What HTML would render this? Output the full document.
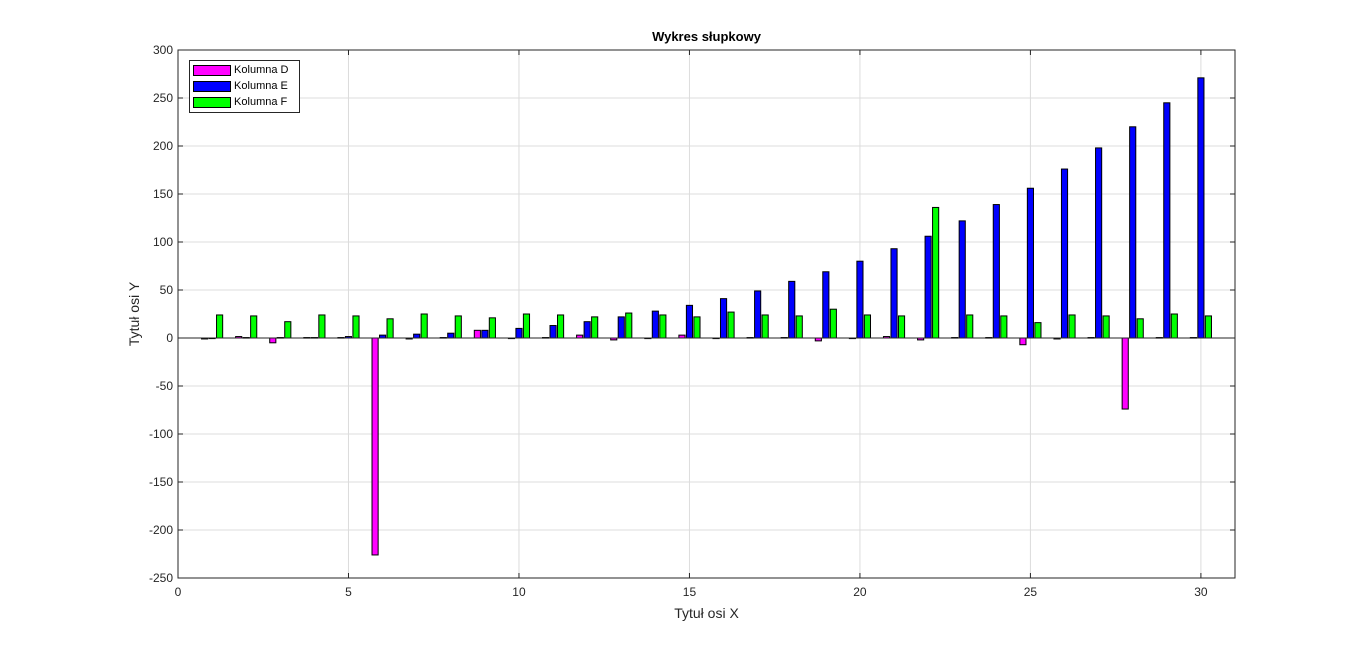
<!DOCTYPE html>
<html><head><meta charset="utf-8"><style>
body{margin:0;background:#fff;font-family:"Liberation Sans",Arial,sans-serif}
svg text{font-family:"Liberation Sans",Arial,sans-serif}
</style></head><body>
<svg id="chart" width="1366" height="651" xmlns="http://www.w3.org/2000/svg">
<rect width="1366" height="651" fill="#fff"/>
<g id="grid"></g><g id="bars"></g><g id="axes"></g>
</svg>
<script>
const categories=[1,2,3,4,5,6,7,8,9,10,11,12,13,14,15,16,17,18,19,20,21,22,23,24,25,26,27,28,29,30];
const seriesD=[-1,1.5,-5,0.5,0.5,-226,-1,0.5,8,0,0.5,3,-2,0,3,0,0.5,0.5,-3,0,1.5,-2,0.5,0.5,-7,-1,0.5,-74,0.5,0.5];
const seriesE=[0,0.5,0.5,0.5,1.5,3,4,5,8,10,13,17,22,28,34,41,49,59,69,80,93,106,122,139,156,176,198,220,245,271];
const seriesF=[24,23,17,24,23,20,25,23,21,25,24,22,26,24,22,27,24,23,30,24,23,136,24,23,16,24,23,20,25,23];
const xTicks=[0,5,10,15,20,25,30];
const yTicks=[300,250,200,150,100,50,0,-50,-100,-150,-200,-250];
const L=178,R=1235,T=50,B=578,xMin=0,xMax=31,yMin=-250,yMax=300;
const sx=v=>L+(v-xMin)/(xMax-xMin)*(R-L);
const sy=v=>T+(yMax-v)/(yMax-yMin)*(B-T);
const NS="http://www.w3.org/2000/svg";
function mk(tag,attrs,parent){const e=document.createElementNS(NS,tag);for(const k in attrs)e.setAttribute(k,attrs[k]);parent.appendChild(e);return e;}
const grid=document.getElementById('grid'),bars=document.getElementById('bars'),axes=document.getElementById('axes');
mk('rect',{x:L,y:T,width:R-L,height:B-T,fill:'#fff'},grid);
xTicks.forEach(t=>{const g=mk('line',{x1:sx(t),x2:sx(t),y1:T,y2:B,stroke:'#dcdcdc'},grid);

const tx=mk('text',{x:sx(t),y:B+18,'font-size':12,'text-anchor':'middle',fill:'#262626'},axes);tx.textContent=t;

mk('line',{x1:sx(t),x2:sx(t),y1:B,y2:B-5,stroke:'#262626'},axes);mk('line',{x1:sx(t),x2:sx(t),y1:T,y2:T+5,stroke:'#262626'},axes);});
yTicks.forEach(t=>{const g=mk('line',{x1:L,x2:R,y1:sy(t),y2:sy(t),stroke:'#dcdcdc'},grid);

const tx=mk('text',{x:L-5,y:sy(t)+4,'font-size':12,'text-anchor':'end',fill:'#262626'},axes);tx.textContent=t;

mk('line',{x1:L,x2:L+5,y1:sy(t),y2:sy(t),stroke:'#262626'},axes);mk('line',{x1:R,x2:R-5,y1:sy(t),y2:sy(t),stroke:'#262626'},axes);});
const series=[[seriesD,'#ff00ff',-0.22,'bar-kolumna-d'],[seriesE,'#0000ff',0,'bar-kolumna-e'],[seriesF,'#00ff00',0.22,'bar-kolumna-f']];
const bw=0.18;
series.forEach(([vals,col,off,name])=>{vals.forEach((v,i)=>{const x=categories[i]+off;
const y0=sy(0),y1=sy(v);const r=mk('rect',{x:sx(x-bw/2),width:sx(x+bw/2)-sx(x-bw/2),y:Math.min(y0,y1),height:Math.max(Math.abs(y1-y0),0.6),fill:col,stroke:'#000','stroke-width':1},bars);
});});
mk('line',{x1:L,x2:R,y1:sy(0),y2:sy(0),stroke:'#262626'},bars);
mk('rect',{x:L,y:T,width:R-L,height:B-T,fill:'none',stroke:'#262626'},axes);
</script>
<div style="position:absolute;left:0;width:1413px;top:29px;text-align:center;font-weight:bold;font-size:13px;color:#000">Wykres słupkowy</div>
<div style="position:absolute;left:0;width:1413px;top:605px;text-align:center;font-size:14px;color:#262626">Tytuł osi X</div>
<div style="position:absolute;left:84px;top:306px;width:100px;text-align:center;font-size:14px;color:#262626;transform:rotate(-90deg)">Tytuł osi Y</div>
<div style="position:absolute;left:189px;top:60px;width:111px;height:53px;border:1px solid #262626;background:#fff;box-sizing:border-box;font-size:11px">
<div style="position:absolute;left:3px;top:3px;white-space:nowrap"><span style="display:inline-block;width:38px;height:11px;background:#ff00ff;border:1px solid #000;vertical-align:middle;box-sizing:border-box"></span> Kolumna D</div>
<div style="position:absolute;left:3px;top:19px;white-space:nowrap"><span style="display:inline-block;width:38px;height:11px;background:#0000ff;border:1px solid #000;vertical-align:middle;box-sizing:border-box"></span> Kolumna E</div>
<div style="position:absolute;left:3px;top:35px;white-space:nowrap"><span style="display:inline-block;width:38px;height:11px;background:#00ff00;border:1px solid #000;vertical-align:middle;box-sizing:border-box"></span> Kolumna F</div>
</div>
</body></html>
